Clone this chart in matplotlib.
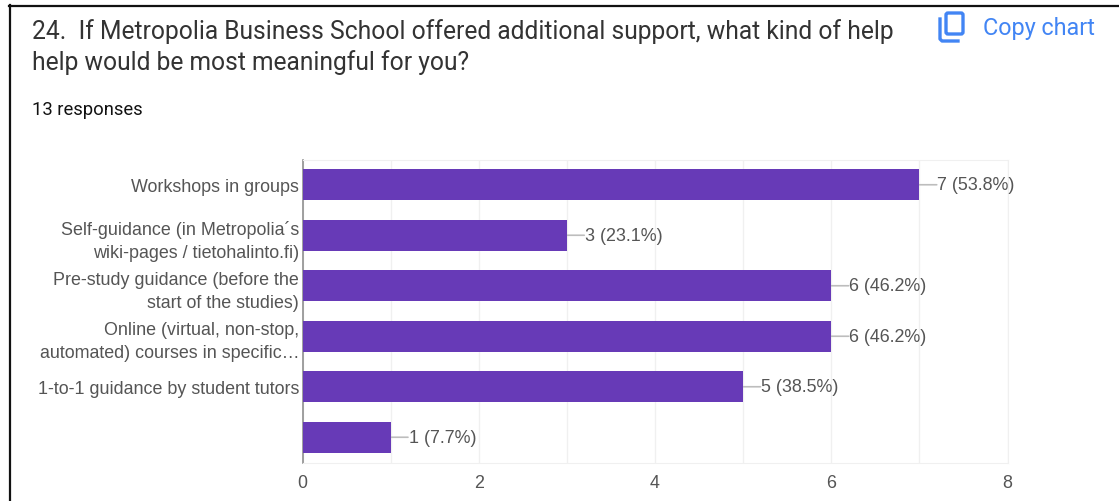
import matplotlib
matplotlib.use("Agg")
import matplotlib.pyplot as plt
from matplotlib.patches import FancyBboxPatch
from matplotlib.lines import Line2D

W, H = 1119, 502

# Survey answers
categories = [
    "Workshops in groups",
    "Self-guidance (in Metropolia´s\nwiki-pages / tietohalinto.fi)",
    "Pre-study guidance (before the\nstart of the studies)",
    "Online (virtual, non-stop,\nautomated) courses in specific…",
    "1-to-1 guidance by student tutors",
    "",
]
counts = [7, 3, 6, 6, 5, 1]
percents = [53.8, 23.1, 46.2, 46.2, 38.5, 7.7]
x_ticks = [0, 2, 4, 6, 8]

title_lines = [
    "24.  If Metropolia Business School offered additional support, what kind of help",
    "help would be most meaningful for you?",
]
responses = "13 responses"

PURPLE = "#673ab7"
GRID = "#f0f0f0"
LABEL = "#555555"

plt.rcParams["font.family"] = ["Liberation Sans", "DejaVu Sans"]

fig = plt.figure(figsize=(W / 100, H / 100), dpi=100, facecolor="white")

# Plot area, placed in pixels
left, right, top, bottom = 302.5, 1007.5, 160.5, 463.5
ax = fig.add_axes([left / W, 1 - bottom / H, (right - left) / W, (bottom - top) / H])

ypos = list(range(len(categories)))
ax.barh(ypos, counts, height=0.61, color=PURPLE, zorder=3)
ax.set_xlim(0, 8)
ax.set_ylim(len(categories) - 0.5, -0.5)

ax.set_xticks(x_ticks)
ax.set_xticks(range(9), minor=True)
ax.set_yticks(ypos)
ax.set_yticklabels(categories, fontsize=12.9, color=LABEL, linespacing=1.45)
ax.tick_params(axis="y", length=0, pad=2.5)
ax.tick_params(axis="x", which="both", length=0, pad=8.5, labelsize=12.9, labelcolor=LABEL)
ax.grid(axis="x", which="both", color=GRID, lw=1, zorder=0)
ax.set_axisbelow(True)

for side in ["top", "right", "bottom"]:
    ax.spines[side].set_color(GRID)
ax.spines["left"].set_color("#8f8f8f")
ax.spines["left"].set_linewidth(1.2)

# Leader line and value label next to each bar
for y, c, p in zip(ypos, counts, percents):
    ax.annotate("", xy=(c, y), xytext=(12.5, 0), textcoords="offset points",
                arrowprops=dict(arrowstyle="-", color="#bdbdbd", lw=1.2,
                                shrinkA=0, shrinkB=0), zorder=2)
    ax.annotate(f"{c} ({p}%)", xy=(c, y), xytext=(13, 0), textcoords="offset points",
                ha="left", va="center", fontsize=12.9, color=LABEL)

# Overlay in pixel coordinates for the page furniture
page = fig.add_axes([0, 0, 1, 1], facecolor="none")
page.set_xlim(0, W)
page.set_ylim(H, 0)
page.axis("off")

page.add_line(Line2D([9, W], [6.5, 6.5], color="#111111", lw=1.6))
page.add_line(Line2D([9.5, 9.5], [6, H], color="#111111", lw=1.6))

page.text(32, 32, title_lines[0], fontsize=17.7, family="Roboto", color="#333333", va="center")
page.text(32, 63, title_lines[1], fontsize=17.7, family="Roboto", color="#333333", va="center")
page.text(32, 110, responses, fontsize=13.2, family="Roboto", color="#111111", va="center")

# Copy icon and link text
BLUE = "#4285f4"
page.add_patch(FancyBboxPatch((946, 14), 17, 21, boxstyle="round,pad=0,rounding_size=2",
                              fill=False, ec=BLUE, lw=2.4))
page.add_line(Line2D([940, 940, 942, 958], [20, 40, 42, 42], color=BLUE, lw=2.4))
page.text(983, 29, "Copy chart", fontsize=16.8, family="Roboto", color=BLUE, va="center")

fig.savefig("out.png", dpi=100)
